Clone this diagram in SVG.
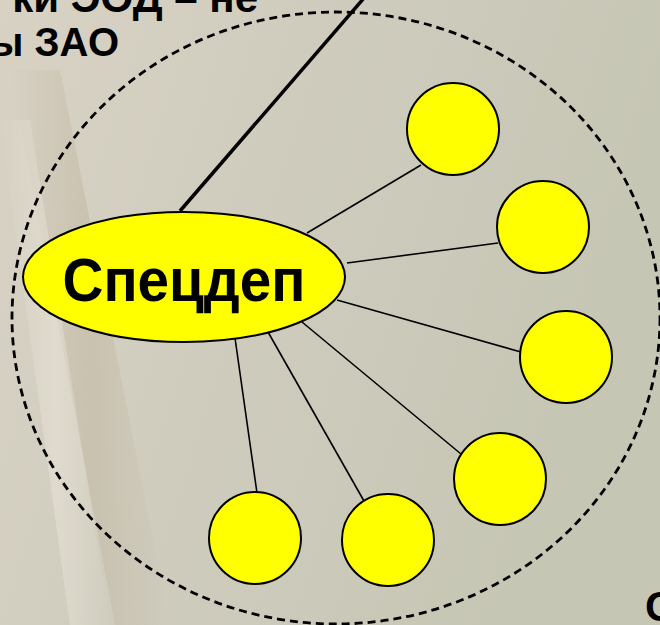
<svg xmlns="http://www.w3.org/2000/svg" width="660" height="625" viewBox="0 0 660 625">
  <defs>
    <linearGradient id="bg" x1="0" y1="0" x2="1" y2="0.3">
      <stop offset="0" stop-color="#d8d2c4"/>
      <stop offset="0.45" stop-color="#cfccbe"/>
      <stop offset="1" stop-color="#c6c6b4"/>
    </linearGradient>
    <linearGradient id="streak" x1="0" y1="0" x2="1" y2="0">
      <stop offset="0" stop-color="#b8aa90" stop-opacity="0"/>
      <stop offset="0.5" stop-color="#b8aa90" stop-opacity="0.35"/>
      <stop offset="1" stop-color="#b8aa90" stop-opacity="0"/>
    </linearGradient>
    <linearGradient id="streak2" x1="0" y1="0" x2="1" y2="0">
      <stop offset="0" stop-color="#ece6da" stop-opacity="0"/>
      <stop offset="0.5" stop-color="#ece6da" stop-opacity="0.5"/>
      <stop offset="1" stop-color="#ece6da" stop-opacity="0"/>
    </linearGradient>
    <style>
      .lbl { font-family: "Liberation Sans", Arial, sans-serif; font-weight: bold; fill: #000; }
      .leaf { fill: #ffff00; stroke: #000; stroke-width: 2; }
      .conn { stroke: #000; stroke-width: 1.6; fill: none; }
    </style>
  </defs>

  <rect width="660" height="625" fill="url(#bg)"/>
  <!-- faint diagonal streaks on the paper -->
  <path d="M10 70 L60 70 L170 625 L115 625 Z" fill="url(#streak)"/>
  <path d="M0 120 L30 120 L110 625 L70 625 Z" fill="url(#streak2)"/>

  <!-- clipped heading text -->
  <text class="lbl" x="258" y="12" font-size="42" text-anchor="end">ки ЭОД – не</text>
  <text class="lbl" x="119" y="56" font-size="40" text-anchor="end">ы ЗАО</text>
  <text class="lbl" x="645" y="621" font-size="42">С</text>

  <!-- dashed boundary -->
  <ellipse id="boundary" cx="336" cy="318" rx="324" ry="306" fill="none" stroke="#000" stroke-width="2.8" stroke-dasharray="8 5"/>

  <g id="connectors">
    <line x1="180" y1="211" x2="364" y2="-2" stroke="#000" stroke-width="3.5"/>
    <line class="conn" x1="307" y1="233" x2="421" y2="165"/>
    <line class="conn" x1="347" y1="263" x2="498" y2="243"/>
    <line class="conn" x1="337" y1="300" x2="521" y2="352"/>
    <line class="conn" x1="302" y1="322" x2="461" y2="454"/>
    <line class="conn" x1="268" y1="332" x2="364" y2="501"/>
    <line class="conn" x1="235" y1="338" x2="257" y2="493"/>
  </g>

  <g id="spetsdep">
    <ellipse cx="184" cy="277" rx="161" ry="65" fill="#ffff00" stroke="#000" stroke-width="2"/>
    <text class="lbl" x="184" y="301" font-size="62" text-anchor="middle" textLength="243" lengthAdjust="spacingAndGlyphs">Спецдеп</text>
  </g>

  <g id="n1"><circle class="leaf" cx="453" cy="129" r="46"/></g>
  <g id="n2"><circle class="leaf" cx="543" cy="227" r="46"/></g>
  <g id="n3"><circle class="leaf" cx="566" cy="357" r="46"/></g>
  <g id="n4"><circle class="leaf" cx="500" cy="479" r="46"/></g>
  <g id="n5"><circle class="leaf" cx="388" cy="540" r="46"/></g>
  <g id="n6"><circle class="leaf" cx="255" cy="538" r="46"/></g>
</svg>
